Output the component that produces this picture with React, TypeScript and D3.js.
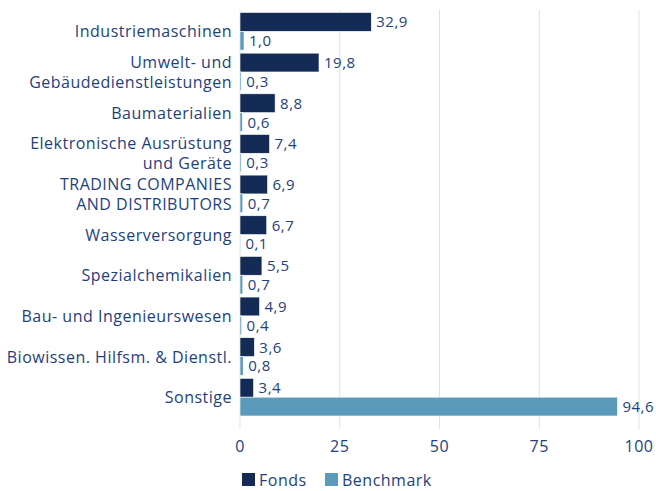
import React from "react";
import * as d3 from "d3";

const categories: string[][] = [
  ["Industriemaschinen"],
  ["Umwelt- und", "Gebäudedienstleistungen"],
  ["Baumaterialien"],
  ["Elektronische Ausrüstung", "und Geräte"],
  ["TRADING COMPANIES", "AND DISTRIBUTORS"],
  ["Wasserversorgung"],
  ["Spezialchemikalien"],
  ["Bau- und Ingenieurswesen"],
  ["Biowissen. Hilfsm. & Dienstl."],
  ["Sonstige"],
];
const fonds = [32.9, 19.8, 8.8, 7.4, 6.9, 6.7, 5.5, 4.9, 3.6, 3.4];
const benchmark = [1.0, 0.3, 0.6, 0.3, 0.7, 0.1, 0.7, 0.4, 0.8, 94.6];
const ticks = [0, 25, 50, 75, 100];
const seriesNames = ["Fonds", "Benchmark"];

const W = 656;
const H = 491;
const FONT = "'Open Sans', sans-serif";
const TEXT = "#1d4180";
const C_FONDS = "#142b55";
const C_BENCH = "#5a9aba";
const GRID = "#d5e5ee";
const LS = 0.5;

export default function App() {
  const x = d3.scaleLinear().domain([0, 100]).range([240, 639]);
  const idx = categories.map((_, i) => String(i));
  const y = d3.scaleBand().domain(idx).range([11, 417.5]).paddingInner(0).paddingOuter(0);
  const y1 = d3.scaleBand().domain(seriesNames).range([0, y.bandwidth()]).paddingOuter(0.08).paddingInner(0);
  const fmt = (v: number) => v.toFixed(1).replace(".", ",");
  const series = [fonds, benchmark];
  const colors = [C_FONDS, C_BENCH];

  return (
    <svg width={W} height={H} style={{ position: "absolute", left: 0, top: 0 }} fontFamily={FONT} letterSpacing={LS}>
      <rect width={W} height={H} fill="#fff" />
      {ticks.map((t) => (
        <g key={t}>
          <line x1={x(t)} x2={x(t)} y1={10} y2={429} stroke={GRID} strokeWidth={1} />
          <text x={x(t)} y={452} fontSize={16} fill={TEXT} textAnchor="middle">
            {t}
          </text>
        </g>
      ))}
      {categories.map((lines, i) => {
        const cy = (y(String(i)) as number) + y.bandwidth() / 2;
        return (
          <text key={i} x={232} fill={TEXT} fontSize={16} textAnchor="end">
            {lines.map((l, j) => (
              <tspan key={j} x={232} y={cy + 6 + (j - (lines.length - 1) / 2) * 20}>
                {l}
              </tspan>
            ))}
          </text>
        );
      })}
      {series.map((vals, s) =>
        vals.map((v, i) => {
          const by = (y(String(i)) as number) + (y1(seriesNames[s]) as number);
          const bh = y1.bandwidth();
          return (
            <g key={`${s}-${i}`}>
              <rect
                x={x(0)}
                y={by}
                width={x(v) - x(0)}
                height={bh}
                fill={colors[s]}
                stroke="#ffffff"
                strokeWidth={0.6}
              />
              <text x={x(v) + 5} y={by + bh / 2 + 5.5} fontSize={15} fill={TEXT}>
                {fmt(v)}
              </text>
            </g>
          );
        })
      )}
      {seriesNames.map((n, s) => {
        const lx = s === 0 ? 242 : 325;
        return (
          <g key={n}>
            <rect x={lx} y={473} width={13} height={13} fill={colors[s]} />
            <text x={lx + 17} y={486} fontSize={16} fill={TEXT}>
              {n}
            </text>
          </g>
        );
      })}
    </svg>
  );
}
